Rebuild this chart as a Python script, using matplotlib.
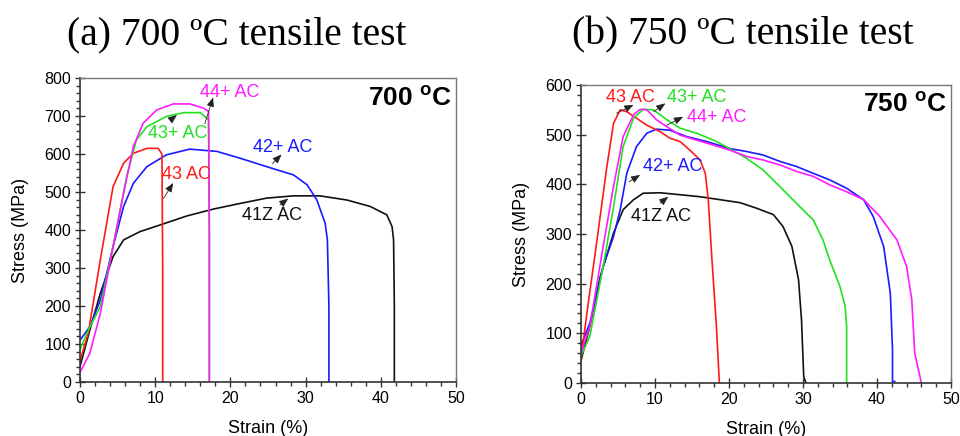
import numpy as np
import matplotlib
matplotlib.use("Agg")
from matplotlib import pyplot as plt
from matplotlib.ticker import MultipleLocator

plt.rcParams['font.family'] = ['Liberation Sans', 'DejaVu Sans']
plt.rcParams['mathtext.fontset'] = 'custom'
plt.rcParams['mathtext.rm'] = 'Liberation Serif'
plt.rcParams['mathtext.bf'] = 'Liberation Sans:bold'

# ---- 700 C tensile curves (strain %, stress MPa) ----
s700_43 = [0, 1.1, 2.7, 4.4, 5.8, 7.1, 8.9, 10.4, 10.9, 11.0, 11.0]
t700_43 = [55, 128, 321, 514, 576, 602, 615, 615, 600, 300, 0]

s700_43p = [0, 1.2, 2.7, 4.4, 6.2, 7.5, 8.9, 11.5, 13.8, 16.0, 16.6, 17.1, 17.2, 17.2]
t700_43p = [85, 140, 198, 356, 540, 637, 672, 699, 709, 709, 699, 690, 400, 0]

s700_44p = [0, 1.3, 2.7, 4.4, 5.8, 7.1, 8.4, 10.2, 12.4, 14.6, 16.4, 17.1, 17.2, 17.2]
t700_44p = [25, 75, 180, 356, 497, 620, 681, 716, 732, 732, 721, 712, 400, 0]

s700_42p = [0, 1.3, 2.7, 4.4, 5.8, 7.1, 8.9, 11.5, 14.6, 18.2, 21.3, 24.8, 28.4,
            30.2, 31.5, 32.6, 32.9, 33.1, 33.1]
t700_42p = [110, 145, 215, 356, 462, 523, 567, 598, 613, 607, 589, 567, 545,
            519, 479, 418, 374, 200, 0]

s700_41z = [0, 1.3, 2.7, 4.4, 5.8, 8.0, 10.6, 14.2, 17.7, 21.3, 24.8, 28.4, 31.9,
            35.5, 38.6, 40.8, 41.5, 41.7, 41.8, 41.8]
t700_41z = [40, 136, 233, 330, 374, 396, 413, 437, 455, 470, 484, 490, 490,
            479, 462, 440, 409, 374, 200, 0]

# ---- 750 C tensile curves ----
s750_43 = [0, 0.8, 2.1, 3.5, 4.4, 5.3, 6.2, 7.5, 8.9, 10.7, 12.0, 13.4, 14.7,
           16.1, 16.8, 17.2, 17.7, 18.3, 18.7]
t750_43 = [47, 141, 281, 436, 523, 550, 546, 533, 519, 506, 493, 486, 469,
           449, 422, 369, 248, 114, 0]

s750_44p = [0, 1.2, 3.0, 4.4, 5.7, 7.1, 8.0, 8.9, 10.2, 11.6, 13.4, 15.6, 17.9,
            20.1, 22.4, 24.6, 26.9, 29.1, 31.4, 33.6, 35.9, 38.2, 40.4, 42.7,
            44.0, 44.7, 45.1, 46.0]
t750_44p = [60, 114, 275, 396, 496, 540, 551, 550, 530, 516, 499, 489, 479,
            469, 456, 449, 439, 426, 416, 399, 385, 369, 335, 288,
            235, 168, 60, 0]

s750_43p = [0, 1.2, 3.0, 4.4, 5.7, 7.1, 8.4, 9.8, 11.6, 13.4, 15.6, 17.9, 20.1,
            22.4, 24.6, 26.9, 29.1, 31.4, 32.7, 33.6, 35.0, 35.7, 35.9, 35.9]
t750_43p = [55, 94, 235, 355, 476, 533, 551, 550, 530, 513, 503, 489, 472,
            452, 429, 395, 362, 328, 288, 248, 194, 154, 114, 0]

s750_42p = [0, 1.2, 3.0, 4.4, 5.3, 6.2, 7.5, 8.9, 10.2, 12.0, 14.3, 17.0, 20.1,
            22.4, 24.6, 26.9, 29.1, 31.4, 33.6, 35.9, 38.2, 39.5, 40.9, 41.8,
            42.1, 42.1, 42.4]
t750_42p = [75, 121, 235, 295, 349, 423, 476, 503, 511, 509, 496, 486, 472,
            466, 459, 446, 436, 422, 409, 392, 369, 335, 275, 181,
            67, 3, 3]

s750_41z = [0, 1.2, 2.6, 4.4, 5.7, 7.1, 8.4, 10.7, 13.4, 16.1, 18.8, 21.5, 23.7,
            26.0, 27.3, 28.5, 29.4, 29.8, 30.1, 30.4]
t750_41z = [45, 114, 214, 302, 349, 369, 382, 383, 379, 375, 369, 363, 352,
            339, 315, 275, 208, 127, 13, 0]

RED, GREEN, BLUE, MAG, BLK = '#ff1a1a', '#22e022', '#1a1aff', '#ff1aff', '#111111'

fig = plt.figure(figsize=(9.6, 4.36), dpi=100)
ax1 = fig.add_axes([0.0833, 0.1239, 0.3917, 0.697])
ax2 = fig.add_axes([0.6052, 0.1216, 0.3854, 0.6835])

curves700 = [(s700_41z, t700_41z, BLK), (s700_42p, t700_42p, BLUE),
             (s700_43, t700_43, RED), (s700_43p, t700_43p, GREEN),
             (s700_44p, t700_44p, MAG)]
curves750 = [(s750_41z, t750_41z, BLK), (s750_42p, t750_42p, BLUE),
             (s750_43, t750_43, RED), (s750_43p, t750_43p, GREEN),
             (s750_44p, t750_44p, MAG)]

for x, y, c in curves700:
    ax1.plot(x, y, color=c, lw=1.2)
for x, y, c in curves750:
    ax2.plot(x, y, color=c, lw=1.2)

# label text, label centre, arrow tail, arrow head, colour
notes700 = [("44+ AC", (19.9, 763), (16.6, 680), (17.7, 749), MAG),
            ("43+ AC", (13.0, 655), (12.0, 689), (12.9, 703), GREEN),
            ("42+ AC", (26.9, 618), (25.6, 575), (26.8, 599), BLUE),
            ("43 AC", (14.2, 547), (11.1, 483), (12.4, 524), RED),
            ("41Z AC", (25.6, 439), (26.6, 466), (27.7, 483), BLK)]
notes750 = [("43 AC", (6.7, 574), (4.8, 543), (7.1, 560), RED),
            ("43+ AC", (15.7, 574), (9.8, 546), (11.4, 563), GREEN),
            ("44+ AC", (18.4, 534), (11.6, 519), (13.8, 536), MAG),
            ("42+ AC", (12.4, 435), (6.5, 405), (8.0, 419), BLUE),
            ("41Z AC", (10.8, 336), (10.7, 362), (11.8, 375), BLK)]

for ax, notes in [(ax1, notes700), (ax2, notes750)]:
    for txt, pos, tail, head, c in notes:
        ax.text(pos[0], pos[1], txt, color=c, fontsize=13, ha='center', va='center')
        ax.annotate('', xy=head, xytext=tail,
                    arrowprops=dict(arrowstyle='-|>,head_length=0.55,head_width=0.22',
                                    color='#222222', lw=0.6, shrinkA=0, shrinkB=0))

ax1.text(0.989, 0.934, r'700 $^{\bf o}$C', transform=ax1.transAxes, fontsize=19,
         fontweight='bold', ha='right', va='center')
ax2.text(0.989, 0.933, r'750 $^{\bf o}$C', transform=ax2.transAxes, fontsize=19,
         fontweight='bold', ha='right', va='center')

for ax, ymax, ymaj in [(ax1, 800, 100), (ax2, 600, 100)]:
    ax.set_xlim(0, 50)
    ax.set_ylim(0, ymax)
    ax.xaxis.set_major_locator(MultipleLocator(10))
    ax.xaxis.set_minor_locator(MultipleLocator(2))
    ax.yaxis.set_major_locator(MultipleLocator(ymaj))
    ax.yaxis.set_minor_locator(MultipleLocator(20))
    ax.tick_params(which='major', direction='inout', length=7, width=1,
                   labelsize=11.5, color='#333333', pad=3)
    ax.tick_params(which='minor', direction='out', length=3, width=1, color='#333333')
    ax.tick_params(top=False, right=False)
    for sp in ['left', 'bottom']:
        ax.spines[sp].set_color('#333333')
        ax.spines[sp].set_linewidth(1.2)
    for sp in ['top', 'right']:
        ax.spines[sp].set_color('#777777')
        ax.spines[sp].set_linewidth(1.0)
    ax.set_xlabel('Strain (%)', fontsize=13, labelpad=10)
    ax.set_ylabel('Stress (MPa)', fontsize=13, labelpad=11)

fig.text(0.247, 0.92, '(a) 700 ºC tensile test', family='Liberation Serif',
         fontsize=28.5, ha='center', va='center')
fig.text(0.774, 0.92, '(b) 750 ºC tensile test', family='Liberation Serif',
         fontsize=28.5, ha='center', va='center')

fig.savefig('out.png', dpi=100)
